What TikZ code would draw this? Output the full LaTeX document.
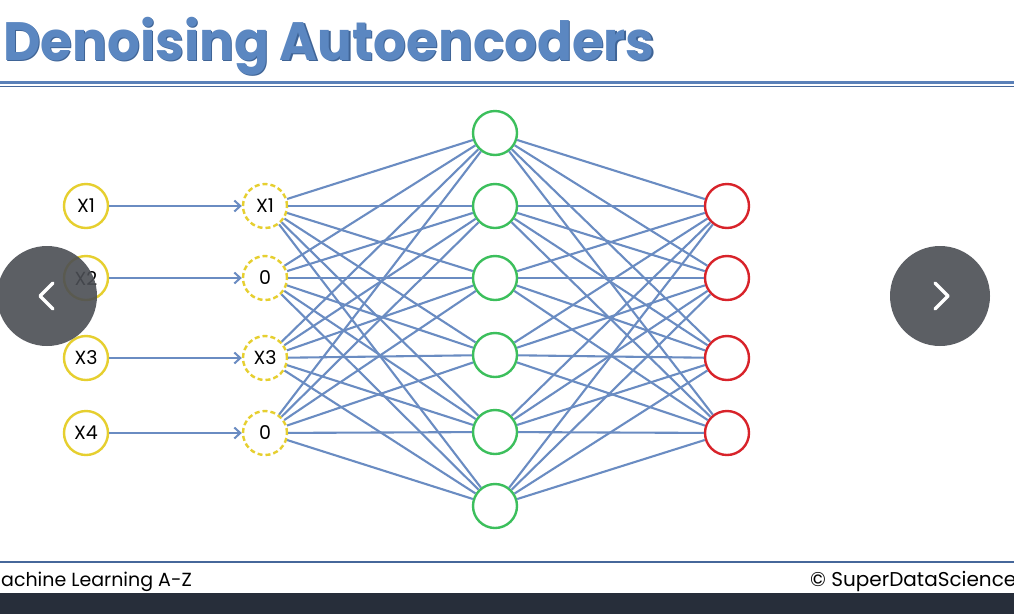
\documentclass[tikz,border=0pt]{standalone}
\usepackage{fontspec}
\setmainfont{Poppins}
\usetikzlibrary{arrows.meta}
\definecolor{titleblue}{HTML}{5B87C1}
\definecolor{titleshade}{HTML}{3F6496}
\definecolor{rule}{HTML}{5A80B8}
\definecolor{ruledark}{HTML}{46679A}
\definecolor{edge}{HTML}{6A8CC2}
\definecolor{inyellow}{HTML}{E6CF2F}
\definecolor{hidgreen}{HTML}{3CBF5C}
\definecolor{outred}{HTML}{D8232A}
\definecolor{navgray}{HTML}{4B4E54}
\definecolor{footbar}{HTML}{272E3A}
\tikzset{
  neuron/.style={circle, minimum size=44pt, inner sep=0pt, line width=2.4pt, fill=white, font=\fontsize{19}{19}\selectfont},
  inputn/.style={neuron, draw=inyellow},
  noisyn/.style={neuron, draw=inyellow, dash pattern=on 5pt off 3pt},
  hiddenn/.style={neuron, draw=hidgreen},
  outputn/.style={neuron, draw=outred},
  link/.style={draw=edge, line width=2.1pt},
  feed/.style={link, -{Straight Barb[length=6pt,width=11pt,line width=2pt]}},
  navbtn/.style={circle, minimum size=100pt, inner sep=0pt, fill=navgray, fill opacity=0.9},
  chev/.style={draw=white, line width=3.5pt, line cap=round, line join=round},
  heading/.style={anchor=base west, inner sep=0pt, font=\fontsize{54}{54}\selectfont\bfseries}
}
\begin{document}
\begin{tikzpicture}[x=1pt,y=-1pt]
\useasboundingbox (0,0) rectangle (1014,614);
\fill[white] (0,0) rectangle (1014,614);

% title with a darker shade behind it
\node[heading, text=titleshade] (titleshadow) at (4.2,61.2) {\scalebox{0.955}[1]{Denoising Autoencoders}};
\node[heading, text=titleblue] (title) at (3,60) {\scalebox{0.955}[1]{Denoising Autoencoders}};

% header rules
\draw[rule, line width=3pt] (0,82) -- (1014,82);
\draw[ruledark, line width=1.6pt] (0,86.5) -- (1014,86.5);

% input layer
\foreach \i/\y in {1/206,2/278,3/358,4/433}
  \node[inputn] (x\i) at (86,\y) {X\i};

% corrupted input
\node[noisyn] (c1) at (265,206) {X1};
\node[noisyn] (c2) at (265,278) {0};
\node[noisyn] (c3) at (265,358) {X3};
\node[noisyn] (c4) at (265,433) {0};

% hidden layer
\foreach \j/\y in {1/133,2/206,3/278,4/355,5/432,6/506}
  \node[hiddenn] (h\j) at (495,\y) {};

% output layer
\foreach \k/\y in {1/206,2/278,3/358,4/433}
  \node[outputn] (o\k) at (727,\y) {};

% connections
\foreach \i in {1,...,4}
  \draw[feed] (x\i) -- (c\i);
\foreach \i in {1,...,4}
  \foreach \j in {1,...,6}
    \draw[link] (c\i) -- (h\j);
\foreach \j in {1,...,6}
  \foreach \k in {1,...,4}
    \draw[link] (h\j) -- (o\k);

% navigation buttons
\node[navbtn] (prev) at (47,296) {};
\draw[chev] ([xshift=6pt,yshift=-13pt]prev.center) -- ([xshift=-7pt]prev.center) -- ([xshift=6pt,yshift=13pt]prev.center);
\node[navbtn] (next) at (940,296) {};
\draw[chev] ([xshift=-5pt,yshift=-13pt]next.center) -- ([xshift=8pt]next.center) -- ([xshift=-5pt,yshift=13pt]next.center);

% footer
\draw[ruledark, line width=2pt] (0,561.5) -- (1014,561.5);
\node[anchor=base east, inner sep=0pt, font=\fontsize{19}{19}\selectfont] (course) at (192,586) {Machine Learning A-Z};
\node[anchor=base west, inner sep=0pt, font=\fontsize{20}{20}\selectfont] (brand) at (810,586) {\textcopyright\ SuperDataScience};
\fill[footbar] (0,593) rectangle (1014,614);
\end{tikzpicture}
\end{document}
